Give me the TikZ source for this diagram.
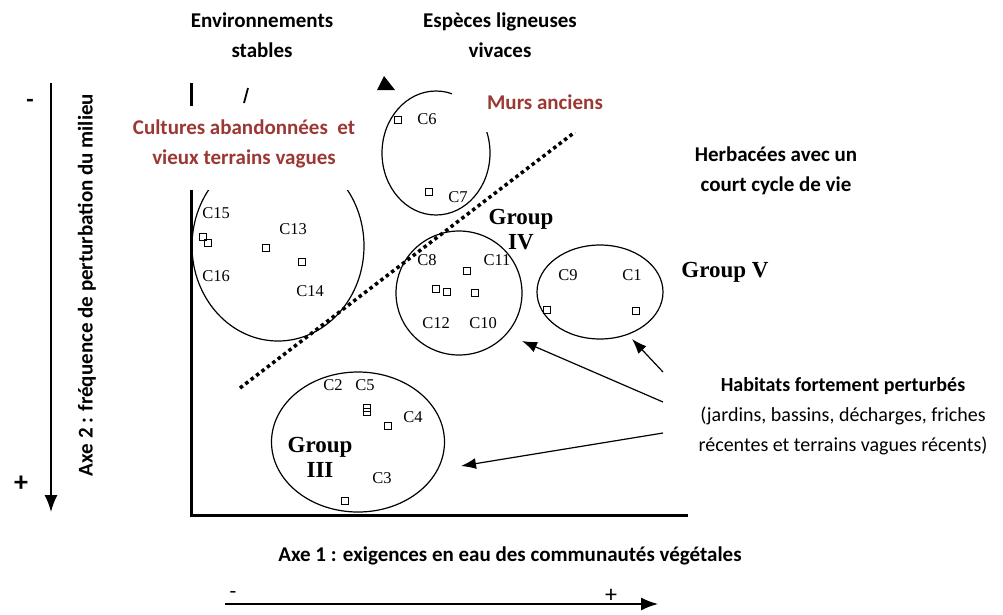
\documentclass[tikz,border=0pt]{standalone}
\usepackage{fontspec}
\setmainfont{Liberation Serif}
\newfontfamily\notefont{Carlito}
\usetikzlibrary{shapes.geometric,arrows.meta}
\definecolor{brique}{RGB}{155,56,52}

\begin{document}
\begin{tikzpicture}[x=1pt,y=-1pt,
  grp/.style={ellipse, draw, line width=1.2pt, inner sep=0pt},
  relevé/.style={rectangle, draw, line width=1.1pt, minimum size=7pt, inner sep=0pt},
  code/.style={font=\fontsize{16.5}{18}\selectfont, inner sep=0pt},
  gname/.style={font=\fontsize{23}{25}\selectfont\bfseries, align=center, inner sep=0pt},
  note/.style={font=\notefont\fontsize{21}{30}\selectfont\bfseries, align=center, inner sep=0pt},
  axe/.style={line width=1.6pt, -{Latex[length=17pt,width=13pt]}},
  fleche/.style={line width=1.2pt, -{Latex[length=15pt,width=11pt]}}]
\useasboundingbox (0,0) rectangle (1003,614);

% cadre du plan factoriel
\draw[line width=3pt] (191,83) -- (191,515) -- (688,515);
\draw[line width=1.8pt] (248,88) -- (244,103);
\fill (377,90) -- (395,90) -- (384,76) -- cycle;

% groupes
\node[grp, minimum width=172pt, minimum height=190pt] (g1) at (278,246) {};
\node[grp, minimum width=108pt, minimum height=124pt] (g2) at (436,153) {};
\node[grp, minimum width=126pt, minimum height=124pt] (g4) at (459,293) {};
\node[grp, minimum width=126pt, minimum height=94pt] (g5) at (600,292) {};
\node[grp, minimum width=173pt, minimum height=140pt] (g3) at (358,442) {};

% releves
\node[relevé] (p15) at (203,237) {};
\node[relevé] (p16) at (208,243) {};
\node[relevé] (p13) at (266,248) {};
\node[relevé] (p14) at (302,262) {};
\node[relevé] (p6) at (398,120) {};
\node[relevé] (p7) at (429,192) {};
\node[relevé] (p8) at (436,289) {};
\node[relevé] (p12) at (447,292) {};
\node[relevé] (p11) at (467,271) {};
\node[relevé] (p10) at (475,293) {};
\node[relevé] (p9) at (547,310) {};
\node[relevé] (p1) at (636,311) {};
\node[relevé] (p2) at (367,408) {};
\node[relevé] (p5) at (367,412) {};
\node[relevé] (p4) at (388,426) {};
\node[relevé] (p3) at (345,501) {};

\node[code] (c15) at (216,213) {C15};
\node[code] (c16) at (216,276) {C16};
\node[code] (c13) at (293,229) {C13};
\node[code] (c14) at (310,291) {C14};
\node[code] (c6) at (427,119) {C6};
\node[code] (c7) at (458,197) {C7};
\node[code] (c8) at (427,260) {C8};
\node[code] (c11) at (497,260) {C11};
\node[code] (c12) at (436,323) {C12};
\node[code] (c10) at (483,323) {C10};
\node[code] (c9) at (568,275) {C9};
\node[code] (c1) at (632,275) {C1};
\node[code] (c2) at (333,385) {C2};
\node[code] (c5) at (365,385) {C5};
\node[code] (c4) at (413,417) {C4};
\node[code] (c3) at (382,478) {C3};

\node[gname] (gIV) at (521,230) {Group\\IV};
\node[gname] (gV) at (725,272) {Group V};
\node[gname] (gIII) at (320,457) {Group\\III};

% limite pointillee
\coordinate (lim1) at (240,388);
\coordinate (lim2) at (575,132);
\draw[line width=3.5pt, dash pattern=on 3.5pt off 3.3pt] (lim1) -- (lim2);

% cartouches
\fill[white] (112,106) rectangle (378,190);
\fill[white] (452,80) rectangle (640,132);
\node[note, text=brique] (cult) at (244,144) {Cultures abandonnées\ \ et\\vieux terrains vagues};
\node[note, text=brique] (murs) at (545,102) {Murs anciens};
\node[note] (env) at (262,35) {Environnements\\stables};
\node[note] (lig) at (500,35) {Espèces ligneuses\\vivaces};
\node[note] (herb) at (776,171) {Herbacées avec un\\court cycle de vie};
\node[note, font=\notefont\fontsize{20}{30}\selectfont\bfseries] (hab) at (843,416) {Habitats fortement perturbés\\\mdseries(jardins, bassins, décharges, friches\\\mdseries récentes et terrains vagues récents)};

\coordinate (dV) at (663,372);
\coordinate (dIV) at (663,402);
\coordinate (dIII) at (663,433);
\coordinate (fV) at (632,339);
\coordinate (fIV) at (522,341);
\coordinate (fIII) at (461,466);
\draw[fleche] (dV) -- (fV);
\draw[fleche] (dIV) -- (fIV);
\draw[fleche] (dIII) -- (fIII);

% axes
\coordinate (a2h) at (51,83);
\coordinate (a2b) at (51,512);
\draw[axe] (a2h) -- (a2b);
\node[note, font=\notefont\fontsize{24}{26}\selectfont\bfseries] (moins2) at (30,103) {-};
\node[note, font=\notefont\fontsize{28}{30}\selectfont\bfseries] (plus2) at (21,484) {+};
\node[note, rotate=90] (axe2) at (87,285) {Axe 2 : fréquence de perturbation du milieu};

\node[note] (axe1) at (510,556) {Axe 1 : exigences en eau des communautés végétales};
\coordinate (a1g) at (225,604);
\coordinate (a1d) at (658,604);
\draw[axe] (a1g) -- (a1d);
\node[note, font=\notefont\fontsize{22}{24}\selectfont\mdseries] (moins1) at (233,595) {-};
\node[note, font=\notefont\fontsize{24}{26}\selectfont\mdseries] (plus1) at (611,596) {+};
\end{tikzpicture}
\end{document}
